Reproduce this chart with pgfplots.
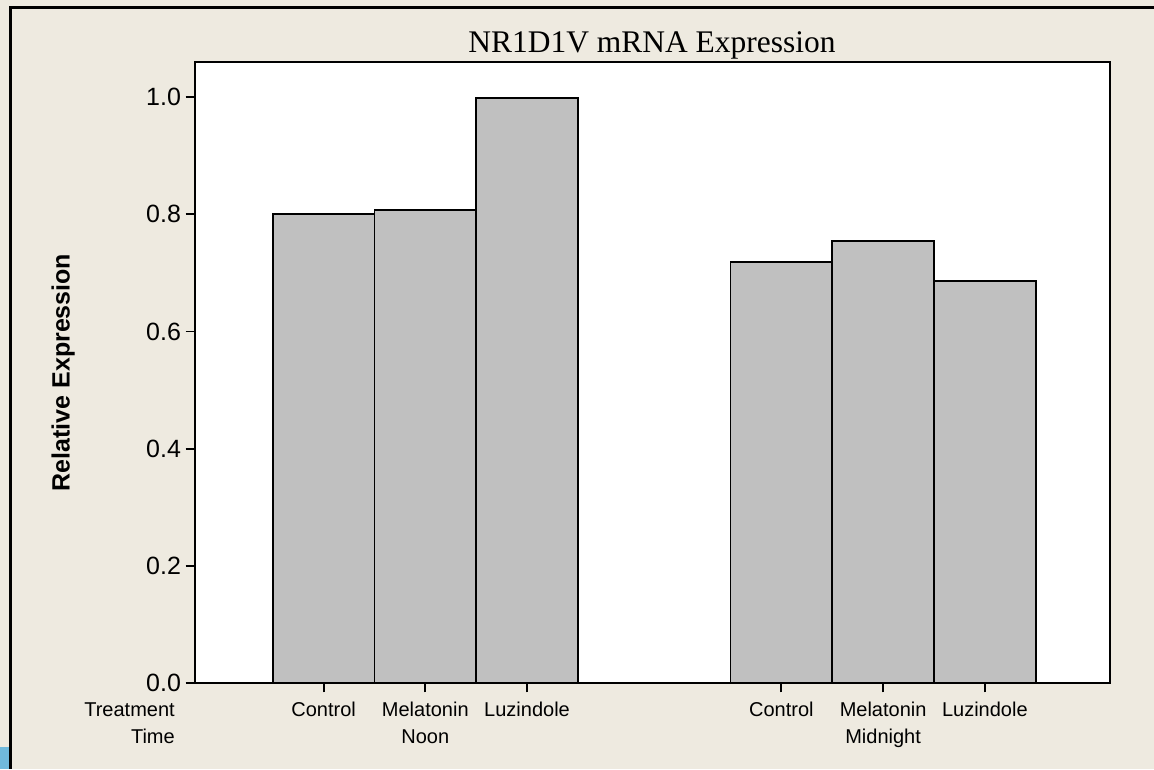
\documentclass[border=0pt]{standalone}
\usepackage{fontspec}
\setmainfont{Liberation Serif}
\setsansfont{Liberation Sans}
\usepackage{pgfplots}
\pgfplotsset{compat=1.18}
\definecolor{bgbeige}{RGB}{238,234,224}
\definecolor{bargray}{RGB}{192,192,192}
\definecolor{tabblue}{RGB}{112,185,220}

\begin{document}
\begin{tikzpicture}
% frame, background (1px = 0.75pt)
\begin{scope}[x=0.75pt,y=0.75pt]
  \path[use as bounding box] (0,0) rectangle (1154,769);
  \fill[bgbeige] (0,0) rectangle (1154,769);
  \fill[tabblue] (0,0) rectangle (9,22);
  \draw[line width=2.25pt] (10.5,0) -- (10.5,761) -- (1154,761);
\end{scope}

\begin{axis}[
  at={(146.25pt,64.5pt)}, anchor=south west,
  scale only axis, width=686.25pt, height=465.75pt,
  xmin=-1.264, xmax=7.73, ymin=0, ymax=1.06,
  ybar, bar width=1,
  axis background/.style={fill=white},
  axis line style={line width=1.4pt},
  tick style={black, line width=1.4pt},
  tick align=outside, major tick length=7pt,
  xtick pos=bottom, ytick pos=left,
  xtick={0,1,2,4.5,5.5,6.5},
  xticklabels={Control,{Melatonin\\Noon},Luzindole,Control,{Melatonin\\Midnight},Luzindole},
  xticklabel style={font=\sffamily\fontsize{15}{20.25}\selectfont, align=center, anchor=north, yshift=-3.5pt},
  ytick={0,0.2,0.4,0.6,0.8,1.0},
  /pgf/number format/assume math mode=true,
  yticklabel style={font=\sffamily\fontsize{18.75}{22}\selectfont,
    /pgf/number format/fixed, /pgf/number format/fixed zerofill,
    /pgf/number format/precision=1},
  ylabel={Relative Expression},
  every axis y label/.style={at={(axis description cs:-0.144,0.5)}, rotate=90, anchor=center,
    font=\sffamily\bfseries\fontsize{18.75}{22}\selectfont},
]
\addplot[fill=bargray, draw=black, line width=1.4pt] coordinates {
  (0,0.800) (1,0.807) (2,0.998) (4.5,0.718) (5.5,0.754) (6.5,0.686)
};
\end{axis}

\begin{scope}[x=0.75pt,y=0.75pt]
  \node[anchor=base, font=\fontsize{23.6}{28}\selectfont] at (652,716) {NR1D1V mRNA Expression};
  \node[anchor=base east, inner sep=0pt, font=\sffamily\fontsize{15}{18}\selectfont] at (175,53) {Treatment};
  \node[anchor=base east, inner sep=0pt, font=\sffamily\fontsize{15}{18}\selectfont] at (175,26) {Time};
\end{scope}
\end{tikzpicture}
\end{document}
